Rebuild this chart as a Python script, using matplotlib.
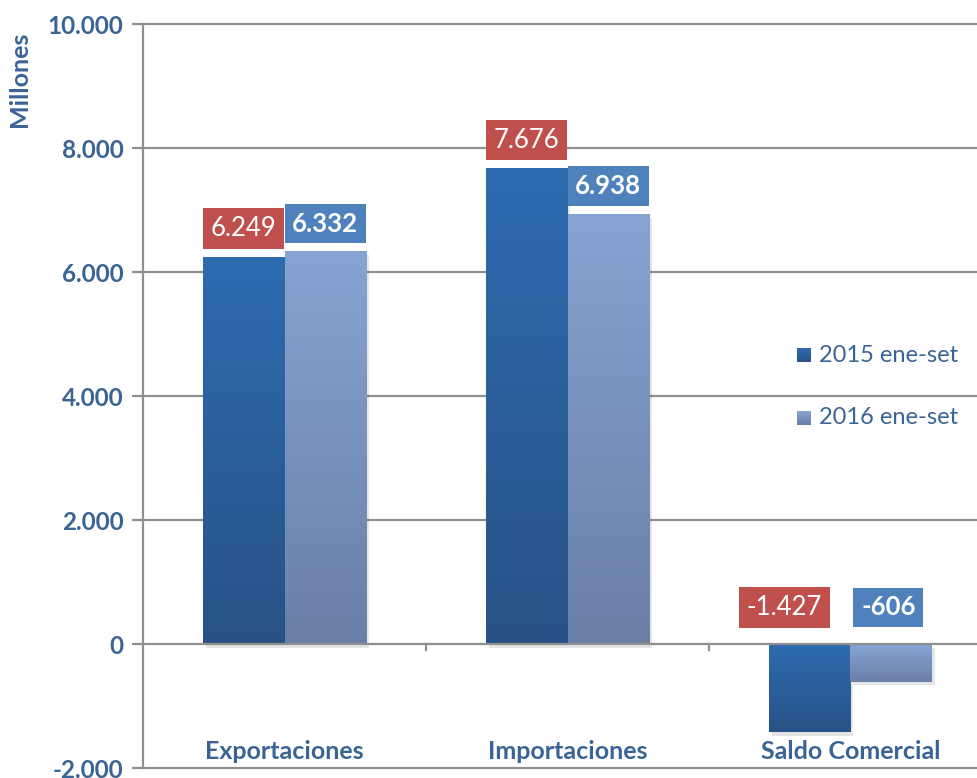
import matplotlib
matplotlib.use("Agg")
import matplotlib.pyplot as plt
import numpy as np
from matplotlib.colors import LinearSegmentedColormap
from matplotlib.patches import Rectangle

categories = ["Exportaciones", "Importaciones", "Saldo Comercial"]
series_names = ["2015 ene-set", "2016 ene-set"]
values_2015 = [6249, 7676, -1427]
values_2016 = [6332, 6938, -606]
labels_2015 = ["6.249", "7.676", "-1.427"]
labels_2016 = ["6.332", "6.938", "-606"]
yticks = [-2000, 0, 2000, 4000, 6000, 8000, 10000]
ytick_labels = ["-2.000", "0", "2.000", "4.000", "6.000", "8.000", "10.000"]

FONT = "Lato"
TXT = "#3b6496"
GRID = "#8f8f8f"

fig = plt.figure(figsize=(9.78, 7.78), dpi=100)
W, H = 978, 778
ax = fig.add_axes([143 / W, (H - 768) / H, (978 - 143) / W, (768 - 24) / H])

x = np.arange(len(categories))
bw = 0.288

grad1 = [(0.157, 0.322, 0.529), (0.180, 0.420, 0.690)]
grad2 = [(0.416, 0.498, 0.651), (0.525, 0.643, 0.831)]

def grad_bars(bars, cols):
    cmap = LinearSegmentedColormap.from_list("g", cols)
    for b in bars:
        x0, y0 = b.get_x(), b.get_y()
        w, h = b.get_width(), b.get_height()
        ylo, yhi = min(y0, y0 + h), max(y0, y0 + h)
        sh = Rectangle((x0 + 0.01, ylo - 60), w, yhi - ylo, facecolor="#000000",
                       alpha=0.10, edgecolor="none", zorder=1.5)
        ax.add_patch(sh)
        img = np.linspace(0, 1, 256).reshape(-1, 1)
        im = ax.imshow(img, cmap=cmap, origin="lower", aspect="auto",
                       extent=[x0, x0 + w, ylo, yhi], zorder=2)
        im.set_clip_path(b)
        b.set_facecolor("none")

b1 = ax.bar(x - bw / 2, values_2015, bw, color="none", edgecolor="none", zorder=2)
b2 = ax.bar(x + bw / 2, values_2016, bw, color="none", edgecolor="none", zorder=2)
grad_bars(b1, grad1)
grad_bars(b2, grad2)
ax.set_xlim(-0.5, 2.5 - 14 / 283)
ax.set_ylim(-2000, 10000)

ax.set_yticks(yticks)
ax.set_yticklabels(ytick_labels)
for yv in yticks:
    if yv != 0:
        ax.axhline(yv, color=GRID, lw=1.6, zorder=1, clip_on=False)
ax.axhline(0, color=GRID, lw=1.6, zorder=3)
for xb in [0.5, 1.5]:
    ax.plot([xb, xb], [0, -100], color=GRID, lw=1.6, zorder=3, clip_on=False)

for s in ["top", "right", "bottom"]:
    ax.spines[s].set_visible(False)
ax.spines["left"].set_color(GRID)
ax.spines["left"].set_linewidth(1.6)
ax.tick_params(axis="y", length=8, width=1.6, color=GRID, pad=6)
ax.set_xticks([])
for t in ax.get_yticklabels():
    t.set_fontfamily(FONT)
    t.set_fontweight("bold")
    t.set_fontsize(17.5)
    t.set_color(TXT)

fig.text(20 / W, 1 - 79 / H, "Millones", rotation=90, ha="center", va="center",
         fontfamily=FONT, fontweight="bold", fontsize=18, color=TXT)

for i, c in enumerate(categories):
    ax.text(x[i], -1740, c, ha="center", va="center", fontfamily=FONT,
            fontweight="bold", fontsize=18, color=TXT, zorder=5)

red = "#c0504d"
blue = "#4f81bd"
for i in range(3):
    v1, v2 = values_2015[i], values_2016[i]
    if v1 >= 0:
        y1 = v1 + 450
        y2 = v2 + 450
        x1 = x[i] - bw / 2
        x2 = x[i] + bw / 2
    else:
        y1 = y2 = 590
        x1 = x[i] - bw / 2 - 0.09
        x2 = x[i] + bw / 2 - 0.01
    ax.text(x1, y1, labels_2015[i], ha="center", va="center", fontfamily=FONT,
            fontsize=18.5, color="white", zorder=6,
            bbox=dict(boxstyle="square,pad=0.3", facecolor=red, edgecolor="none"))
    ax.text(x2, y2, labels_2016[i], ha="center", va="center", fontfamily=FONT,
            fontsize=18.5, fontweight="bold", color="white", zorder=6,
            bbox=dict(boxstyle="square,pad=0.3", facecolor=blue, edgecolor="none"))

for j, (name, cols) in enumerate(zip(series_names, [grad1, grad2])):
    yc = 1 - (355 + 63 * j) / H
    lax = fig.add_axes([797 / W, yc - 7 / H, 14 / W, 14 / H])
    cmap = LinearSegmentedColormap.from_list("g", cols)
    lax.imshow(np.linspace(0, 1, 64).reshape(-1, 1), cmap=cmap, origin="lower",
               aspect="auto")
    lax.axis("off")
    fig.text(819 / W, yc, name, ha="left", va="center", fontfamily=FONT,
             fontsize=17, color=TXT)

fig.savefig("out.png", dpi=100)
